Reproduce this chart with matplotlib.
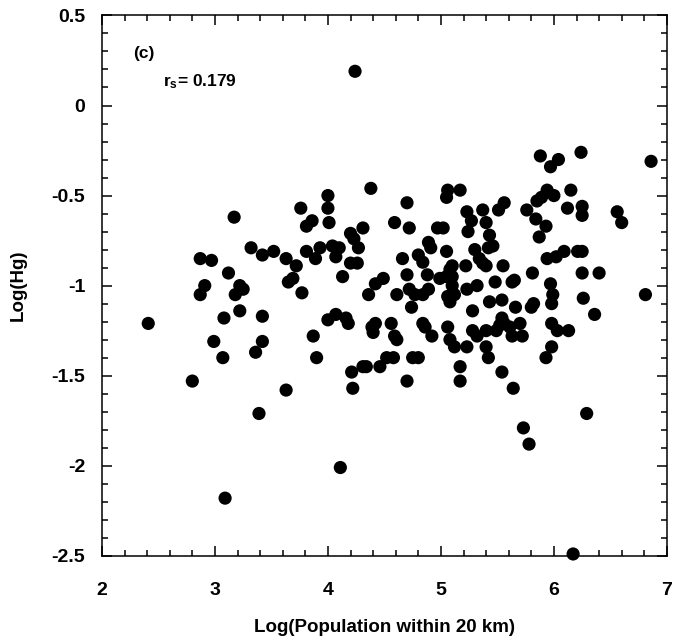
import matplotlib.pyplot as plt
import matplotlib.ticker as ticker

# Log(Population within 20 km) vs Log(Hg)
log_pop = [
    2.41, 2.80, 2.87, 2.97, 2.87, 2.91, 3.12, 3.17, 3.22, 3.25,
    3.18, 2.99, 3.08, 3.07, 3.22, 3.42, 3.42, 3.36, 3.39, 3.09,
    3.63, 3.87, 3.90, 4.11, 3.65, 3.69, 3.77, 3.72, 4.13, 4.00,
    4.07, 4.16, 4.18, 4.21, 4.22, 4.36, 4.42, 4.49, 4.39, 4.42,
    4.40, 4.56, 4.59, 4.61, 4.31, 4.34, 4.46, 4.52, 4.58, 4.61,
    4.24, 4.38, 4.00, 4.00, 3.76, 3.86, 3.81, 4.01, 4.31, 4.20,
    4.23, 4.59, 3.32, 3.42, 3.52, 3.63, 3.81, 3.89, 3.93, 4.04,
    4.10, 4.07, 4.27, 4.20, 4.26, 5.88, 6.04, 5.97, 6.24, 6.86,
    5.06, 5.05, 5.17, 4.70, 4.72, 4.97, 5.02, 5.23, 5.27, 5.37,
    5.40, 5.24, 5.51, 5.56, 5.76, 5.84, 5.85, 5.89, 5.94, 6.00,
    6.15, 6.12, 6.25, 6.25, 5.93, 5.87, 6.56, 6.60, 4.89, 4.91,
    5.05, 4.66, 4.80, 4.84, 5.10, 5.08, 4.70, 4.88, 4.99, 5.10,
    5.22, 5.30, 5.34, 5.37, 5.40, 5.43, 5.46, 5.42, 5.55, 5.48,
    5.63, 5.65, 5.81, 5.97, 5.94, 6.02, 6.09, 6.21, 6.25, 6.25,
    6.40, 4.72, 4.89, 5.23, 5.32, 6.81, 5.10, 4.77, 4.74, 4.84,
    5.06, 5.08, 5.12, 5.43, 5.54, 5.66, 5.80, 5.82, 5.99, 5.98,
    6.26, 6.36, 5.28, 4.84, 4.86, 4.92, 5.06, 5.08, 5.12, 5.23,
    5.28, 5.32, 5.40, 5.40, 5.42, 5.49, 5.54, 5.56, 5.61, 5.63,
    5.70, 5.72, 5.54, 5.64, 5.73, 5.78, 5.93, 5.98, 5.98, 6.03,
    6.13, 6.29, 6.17, 4.70, 4.75, 4.80, 5.17, 5.17, 5.52, 5.05,
]
log_hg = [
    -1.21, -1.53, -0.85, -0.86, -1.05, -1.00, -0.93, -0.62, -1.00, -1.02,
    -1.05, -1.31, -1.18, -1.40, -1.14, -1.17, -1.31, -1.37, -1.71, -2.18,
    -1.58, -1.28, -1.40, -2.01, -0.98, -0.96, -1.04, -0.89, -0.95, -1.19,
    -1.16, -1.18, -1.21, -1.48, -1.57, -1.05, -0.99, -0.96, -1.23, -1.21,
    -1.26, -1.21, -1.28, -1.30, -1.45, -1.45, -1.45, -1.40, -1.40, -1.05,
    0.19, -0.46, -0.50, -0.57, -0.57, -0.64, -0.67, -0.65, -0.68, -0.71,
    -0.74, -0.65, -0.79, -0.83, -0.81, -0.85, -0.81, -0.85, -0.79, -0.78,
    -0.79, -0.84, -0.79, -0.875, -0.875, -0.28, -0.30, -0.34, -0.26, -0.31,
    -0.47, -0.51, -0.47, -0.54, -0.68, -0.68, -0.68, -0.59, -0.64, -0.58,
    -0.65, -0.70, -0.58, -0.54, -0.58, -0.63, -0.53, -0.51, -0.47, -0.50,
    -0.47, -0.57, -0.56, -0.61, -0.67, -0.73, -0.59, -0.65, -0.76, -0.79,
    -0.81, -0.85, -0.83, -0.87, -0.89, -0.91, -0.94, -0.94, -0.96, -0.95,
    -0.89, -0.80, -0.85, -0.875, -0.89, -0.72, -0.78, -0.79, -0.89, -0.98,
    -0.98, -0.97, -0.93, -0.99, -0.85, -0.84, -0.81, -0.81, -0.81, -0.93,
    -0.93, -1.02, -1.02, -1.02, -1.00, -1.05, -1.00, -1.05, -1.12, -1.05,
    -1.06, -1.09, -1.05, -1.09, -1.08, -1.12, -1.12, -1.10, -1.05, -1.10,
    -1.07, -1.16, -1.14, -1.21, -1.23, -1.28, -1.23, -1.30, -1.34, -1.34,
    -1.25, -1.28, -1.25, -1.34, -1.40, -1.25, -1.18, -1.21, -1.23, -1.28,
    -1.21, -1.28, -1.48, -1.57, -1.79, -1.88, -1.40, -1.34, -1.21, -1.25,
    -1.25, -1.71, -2.49, -1.53, -1.40, -1.40, -1.45, -1.53, -1.22, -0.95,
]

x_ticks = [2, 3, 4, 5, 6, 7]
x_labels = ["2", "3", "4", "5", "6", "7"]
y_ticks = [-2.5, -2, -1.5, -1, -0.5, 0, 0.5]
y_labels = ["-2.5", "-2", "-1.5", "-1", "-0.5", "0", "0.5"]

plt.rcParams["font.family"] = ["Liberation Sans", "DejaVu Sans"]
plt.rcParams["font.weight"] = "bold"
plt.rcParams["mathtext.fontset"] = "custom"
plt.rcParams["mathtext.rm"] = "Liberation Sans:bold"
plt.rcParams["mathtext.bf"] = "Liberation Sans:bold"

fig = plt.figure(figsize=(6.75, 6.44), dpi=100)
ax = fig.add_axes([0.151, 0.137, 0.837, 0.839])

ax.scatter(log_pop, log_hg, s=90, color="black", edgecolors="none", zorder=3, clip_on=False)

ax.set_xlim(2, 7)
ax.set_ylim(-2.5, 0.5)
ax.set_xticks(x_ticks)
ax.set_xticklabels(x_labels)
ax.set_yticks(y_ticks)
ax.set_yticklabels(y_labels)
ax.xaxis.set_minor_locator(ticker.MultipleLocator(0.2))
ax.yaxis.set_minor_locator(ticker.MultipleLocator(0.1))

ax.tick_params(which="both", direction="in", top=True, right=True, width=1.1)
ax.tick_params(which="major", length=7, labelsize=14)
ax.tick_params(which="minor", length=4)
ax.tick_params(axis="x", which="major", pad=19)
ax.tick_params(axis="y", which="major", pad=12)
for s in ax.spines.values():
    s.set_linewidth(1.1)

ax.set_xlabel("Log(Population within 20 km)", fontsize=13.5, fontweight="bold", labelpad=14)
ax.set_ylabel("Log(Hg)", fontsize=13.5, fontweight="bold", labelpad=18)

ax.text(2.28, 0.29, "(c)", fontsize=12.5, fontweight="bold", va="center", ha="left")
ax.text(2.54, 0.13, r"$\mathbf{r_s}$= 0.179", fontsize=12.5, fontweight="bold", va="center", ha="left")

fig.savefig("out.png", dpi=100)
